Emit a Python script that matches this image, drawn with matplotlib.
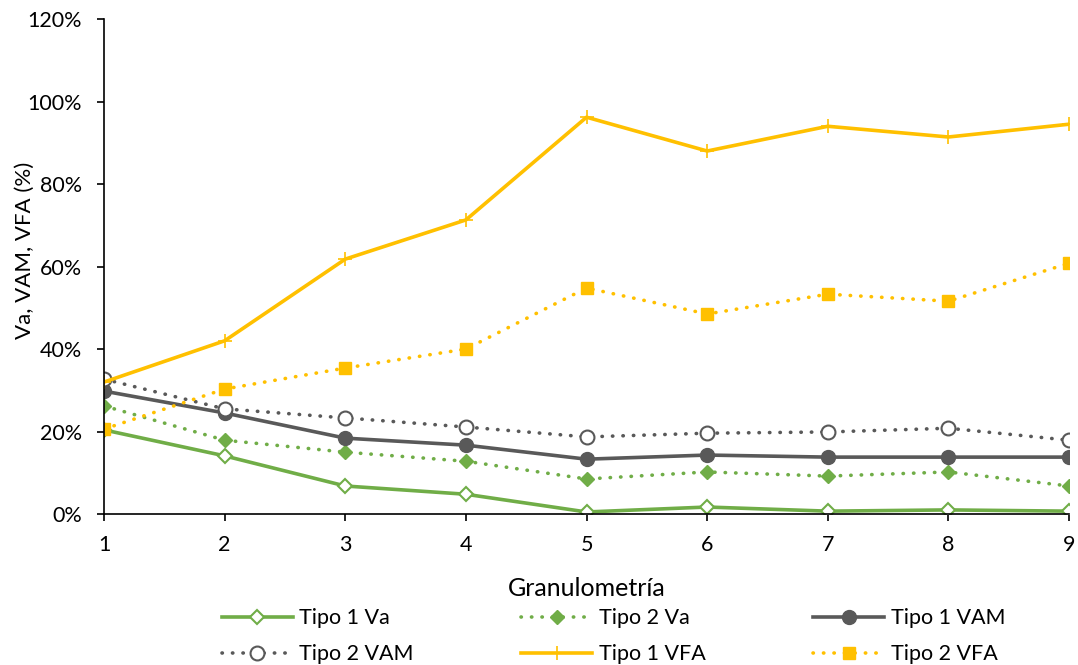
import matplotlib
matplotlib.use("Agg")
import matplotlib.pyplot as plt
from matplotlib.ticker import PercentFormatter

plt.rcParams['font.family'] = ['Lato', 'DejaVu Sans']

# granulometria 1..9
granulometria = [1, 2, 3, 4, 5, 6, 7, 8, 9]

# values in %
tipo1_va = [20.4, 14.1, 6.8, 4.8, 0.5, 1.7, 0.7, 1.0, 0.7]
tipo2_va = [26.2, 17.9, 15.0, 12.8, 8.5, 10.2, 9.2, 10.2, 6.8]
tipo1_vam = [29.8, 24.5, 18.4, 16.7, 13.3, 14.3, 13.8, 13.8, 13.8]
tipo2_vam = [32.7, 25.5, 23.3, 21.1, 18.7, 19.6, 19.9, 20.8, 17.9]
tipo1_vfa = [32.0, 42.0, 61.8, 71.3, 96.2, 88.0, 94.0, 91.4, 94.5]
tipo2_vfa = [20.6, 30.3, 35.4, 40.0, 54.8, 48.5, 53.3, 51.6, 60.8]

GREEN = "#70AD47"
GRAY = "#595959"
GOLD = "#FFC000"
DOT = (0, (0.1, 2.8))

fig = plt.figure(figsize=[10.78, 6.65], dpi=100)
ax = fig.add_axes([0.0965, 0.227, 0.8952, 0.7444])

h = {}
h['t1va'], = ax.plot(granulometria, tipo1_va, color=GREEN, lw=2.6, marker='D', ms=7,
                     mfc='white', mec=GREEN, mew=1.5, label="Tipo 1 Va")
h['t2va'], = ax.plot(granulometria, tipo2_va, color=GREEN, lw=2.6, ls=DOT, dash_capstyle='round',
                     marker='D', ms=7.5, mfc=GREEN, mec=GREEN, label="Tipo 2 Va")
h['t1vam'], = ax.plot(granulometria, tipo1_vam, color=GRAY, lw=2.6, marker='o', ms=10,
                      mfc=GRAY, mec=GRAY, label="Tipo 1 VAM")
h['t2vam'], = ax.plot(granulometria, tipo2_vam, color=GRAY, lw=2.6, ls=DOT, dash_capstyle='round',
                      marker='o', ms=10, mfc='white', mec=GRAY, mew=1.5, label="Tipo 2 VAM")
h['t1vfa'], = ax.plot(granulometria, tipo1_vfa, color=GOLD, lw=2.6, marker='+', ms=10,
                      mew=1.2, label="Tipo 1 VFA")
h['t2vfa'], = ax.plot(granulometria, tipo2_vfa, color=GOLD, lw=2.6, ls=DOT, dash_capstyle='round',
                      marker='s', ms=9, mfc=GOLD, mec=GOLD, label="Tipo 2 VFA")

ax.set_xlim(1, 9)
ax.set_ylim(0, 120)
ax.set_xticks(granulometria)
ax.set_yticks(range(0, 121, 20))
ax.yaxis.set_major_formatter(PercentFormatter(decimals=0))
ax.tick_params(labelsize=15.5, length=5, width=1.2, color='black')
ax.tick_params(axis='y', pad=11)
ax.tick_params(axis='x', pad=10)
ax.spines['top'].set_visible(False)
ax.spines['right'].set_visible(False)
for s in ['left', 'bottom']:
    ax.spines[s].set_linewidth(1.2)

ax.set_xlabel("Granulometría", fontsize=18)
ax.set_ylabel("Va, VAM, VFA (%)", fontsize=16)
ax.xaxis.set_label_coords(0.5, -0.127)
ax.yaxis.set_label_coords(-0.0715, 0.533)

# matplotlib fills legend column by column
order = ['t1va', 't2vam', 't2va', 't1vfa', 't1vam', 't2vfa']
fig.legend([h[k] for k in order], [h[k].get_label() for k in order],
           ncol=3, loc='center', bbox_to_anchor=(0.569, 0.043), frameon=False,
           fontsize=15.5, handlelength=3.3, columnspacing=5.0, labelspacing=0.74,
           handletextpad=0.3)

fig.savefig("out.png", dpi=100)
